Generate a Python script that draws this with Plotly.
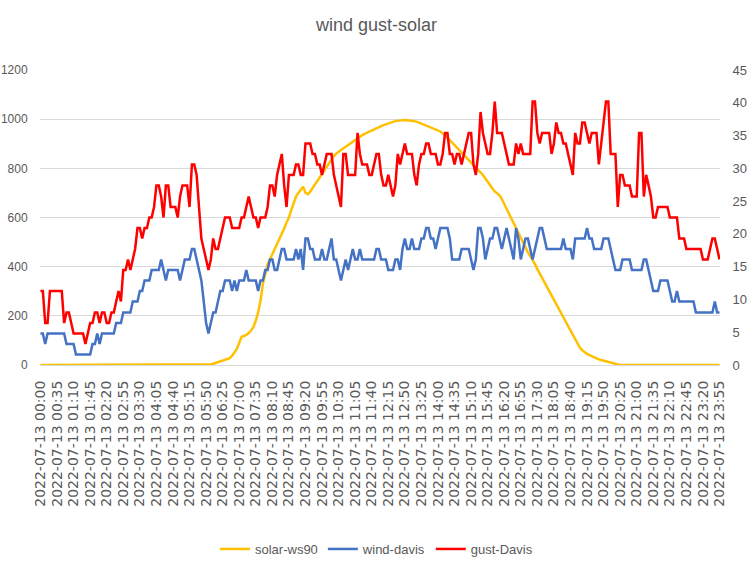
import plotly.graph_objects as go

# ---- categories: 5-minute timestamps for 2022-07-13 ----
times = [f"2022-07-13 {h:02d}:{m:02d}" for h in range(24) for m in range(0, 60, 5)]
tick_labels = times[::7]

# ---- solar-ws90 (left axis, W/m2) ----
solar = [
    0, 0, 0, 0, 0, 0, 0, 0, 0, 0,
    0, 0, 0, 0, 0, 0, 0, 0, 0, 0,
    0, 0, 0, 0, 0, 0, 0, 0, 0, 0,
    0, 0, 0, 0, 0, 0, 0, 0, 0, 0,
    0, 0, 0, 0, 0, 0, 0, 0, 0, 0,
    0, 0, 0, 0, 0, 0, 0, 0, 0, 0,
    0, 0, 0, 0, 0, 0, 0, 0, 0, 0,
    0, 2, 3, 5, 8, 12, 15, 18, 21, 24,
    28, 38, 50, 65, 90, 115, 118, 122, 130, 140,
    155, 180, 215, 260, 330, 375, 410, 430, 450, 470,
    490, 510, 530, 555, 580, 600, 630, 660, 685, 700,
    715, 725, 700, 695, 705, 720, 735, 745, 760, 780,
    795, 810, 825, 840, 850, 860, 868, 875, 882, 888,
    895, 902, 910, 917, 923, 929, 935, 940, 945, 950,
    955, 960, 964, 968, 972, 976, 980, 983, 986, 989,
    992, 994, 996, 997, 997, 996, 995, 994, 993, 990,
    986, 982, 978, 974, 970, 966, 963, 960, 956, 950,
    942, 934, 925, 915, 905, 895, 885, 875, 865, 855,
    845, 835, 825, 815, 805, 795, 785, 773, 760, 745,
    730, 718, 706, 698, 690, 675, 655, 635, 615, 598,
    580, 560, 535, 515, 495, 475, 458, 443, 428, 410,
    390, 372, 354, 336, 318, 300, 284, 266, 248, 230,
    212, 195, 178, 160, 142, 124, 106, 88, 70, 60,
    52, 45, 40, 35, 30, 27, 23, 20, 17, 14,
    11, 8, 5, 3, 2, 1, 0, 0, 0, 0,
    0, 0, 0, 0, 0, 0, 0, 0, 0, 0,
    0, 0, 0, 0, 0, 0, 0, 0, 0, 0,
    0, 0, 0, 0, 0, 0, 0, 0, 0, 0,
    0, 0, 0, 0, 0, 0, 0, 0,
]

# ---- wind-davis (right axis) ----
wind = [
    4.8, 4.8, 3.2, 4.8, 4.8, 4.8, 4.8, 4.8, 4.8, 4.8,
    4.8, 3.2, 3.2, 3.2, 3.2, 1.6, 1.6, 1.6, 1.6, 1.6,
    1.6, 1.6, 3.2, 3.2, 4.8, 3.2, 4.8, 4.8, 4.8, 4.8,
    4.8, 4.8, 6.4, 6.4, 6.4, 8.0, 8.0, 8.0, 8.0, 9.7,
    9.7, 9.7, 11.3, 11.3, 12.9, 12.9, 12.9, 14.5, 14.5, 14.5,
    14.5, 16.1, 14.5, 12.9, 14.5, 14.5, 14.5, 14.5, 14.5, 12.9,
    14.5, 16.1, 16.1, 16.1, 17.7, 17.7, 16.1, 14.5, 12.9, 9.7,
    6.4, 4.8, 6.4, 8.0, 8.0, 9.7, 11.3, 11.3, 12.9, 12.9,
    12.9, 11.3, 12.9, 11.3, 12.9, 12.9, 12.9, 14.5, 12.9, 12.9,
    12.9, 12.9, 11.3, 12.9, 12.9, 14.5, 14.5, 16.1, 16.1, 14.5,
    14.5, 16.1, 17.7, 17.7, 16.1, 16.1, 16.1, 16.1, 17.7, 16.1,
    17.7, 14.5, 19.3, 19.3, 17.7, 17.7, 16.1, 16.1, 16.1, 17.7,
    16.1, 16.1, 17.7, 19.3, 16.1, 16.1, 14.5, 12.9, 14.5, 16.1,
    14.5, 16.1, 17.7, 16.1, 16.1, 17.7, 16.1, 16.1, 16.1, 16.1,
    16.1, 16.1, 17.7, 17.7, 16.1, 16.1, 16.1, 14.5, 14.5, 14.5,
    16.1, 16.1, 14.5, 17.7, 19.3, 17.7, 17.7, 19.3, 17.7, 17.7,
    17.7, 19.3, 19.3, 20.9, 20.9, 19.3, 19.3, 17.7, 19.3, 20.9,
    20.9, 20.9, 20.9, 19.3, 16.1, 16.1, 16.1, 16.1, 17.7, 17.7,
    17.7, 17.7, 16.1, 14.5, 16.1, 20.9, 20.9, 19.3, 16.1, 17.7,
    19.3, 19.3, 20.9, 20.9, 19.3, 17.7, 19.3, 20.9, 19.3, 17.7,
    16.1, 20.9, 19.3, 16.1, 17.7, 19.3, 19.3, 17.7, 16.1, 17.7,
    19.3, 20.9, 20.9, 19.3, 17.7, 17.7, 17.7, 17.7, 17.7, 17.7,
    17.7, 19.3, 17.7, 17.7, 17.7, 16.1, 19.3, 19.3, 19.3, 19.3,
    19.3, 20.9, 19.3, 19.3, 17.7, 17.7, 17.7, 17.7, 19.3, 19.3,
    19.3, 17.7, 16.1, 14.5, 14.5, 14.5, 16.1, 16.1, 16.1, 16.1,
    14.5, 14.5, 14.5, 14.5, 14.5, 16.1, 16.1, 14.5, 12.9, 11.3,
    11.3, 11.3, 12.9, 12.9, 12.9, 12.9, 11.3, 9.7, 9.7, 11.3,
    9.7, 9.7, 9.7, 9.7, 9.7, 9.7, 9.7, 8.0, 8.0, 8.0,
    8.0, 8.0, 8.0, 8.0, 8.0, 9.7, 8.0, 8.0,
]

# ---- gust-Davis (right axis) ----
gust = [
    11.3, 11.3, 6.4, 6.4, 11.3, 11.3, 11.3, 11.3, 11.3, 11.3,
    6.4, 8.0, 8.0, 6.4, 4.8, 4.8, 4.8, 4.8, 4.8, 3.2,
    4.8, 6.4, 6.4, 8.0, 8.0, 6.4, 8.0, 8.0, 6.4, 6.4,
    8.0, 8.0, 9.7, 11.3, 9.7, 14.5, 14.5, 16.1, 14.5, 16.1,
    17.7, 20.9, 20.9, 19.3, 20.9, 20.9, 22.5, 22.5, 24.1, 27.4,
    27.4, 25.7, 22.5, 27.4, 27.4, 24.1, 24.1, 24.1, 22.5, 25.7,
    27.4, 27.4, 27.4, 24.1, 30.6, 30.6, 29.0, 24.1, 19.3, 17.7,
    16.1, 14.5, 16.1, 19.3, 17.7, 17.7, 19.3, 20.9, 22.5, 22.5,
    22.5, 20.9, 20.9, 20.9, 20.9, 22.5, 22.5, 24.1, 25.7, 24.1,
    22.5, 22.5, 20.9, 22.5, 22.5, 22.5, 24.1, 27.4, 27.4, 25.7,
    29.0, 30.6, 32.2, 27.4, 24.1, 29.0, 29.0, 29.0, 30.6, 30.6,
    29.0, 29.0, 33.8, 33.8, 33.8, 32.2, 32.2, 30.6, 30.6, 29.0,
    30.6, 32.2, 32.2, 32.2, 29.0, 27.4, 25.7, 24.1, 32.2, 32.2,
    29.0, 29.0, 29.0, 29.0, 35.4, 32.2, 30.6, 30.6, 30.6, 29.0,
    29.0, 30.6, 32.2, 32.2, 29.0, 27.4, 27.4, 29.0, 27.4, 25.7,
    27.4, 32.2, 30.6, 32.2, 33.8, 32.2, 32.2, 32.2, 29.0, 27.4,
    30.6, 32.2, 32.2, 33.8, 33.8, 32.2, 32.2, 32.2, 30.6, 30.6,
    32.2, 35.4, 35.4, 32.2, 32.2, 30.6, 32.2, 32.2, 30.6, 32.2,
    33.8, 35.4, 35.4, 30.6, 29.0, 32.2, 38.6, 35.4, 33.8, 32.2,
    32.2, 35.4, 40.2, 35.4, 35.4, 35.4, 33.8, 32.2, 30.6, 30.6,
    30.6, 33.8, 32.2, 33.8, 32.2, 32.2, 32.2, 32.2, 40.2, 40.2,
    35.4, 33.8, 35.4, 35.4, 35.4, 35.4, 32.2, 33.8, 37.0, 35.4,
    35.4, 33.8, 33.8, 32.2, 30.6, 29.0, 35.4, 33.8, 33.8, 37.0,
    37.0, 35.4, 33.8, 35.4, 35.4, 35.4, 30.6, 33.8, 37.0, 40.2,
    40.2, 32.2, 32.2, 32.2, 24.1, 29.0, 29.0, 27.4, 27.4, 27.4,
    25.7, 25.7, 25.7, 35.4, 35.4, 25.7, 29.0, 27.4, 25.7, 22.5,
    22.5, 24.1, 24.1, 24.1, 24.1, 24.1, 22.5, 22.5, 22.5, 22.5,
    19.3, 19.3, 19.3, 17.7, 17.7, 17.7, 17.7, 17.7, 17.7, 17.7,
    16.1, 16.1, 16.1, 17.7, 19.3, 19.3, 17.7, 16.1,
]

GRAY = "#595959"
GRID = "#D9D9D9"

fig = go.Figure()
fig.add_trace(go.Scatter(x=times, y=solar, name="solar-ws90", mode="lines",
                         line=dict(color="#FFC000", width=2.5), yaxis="y"))
fig.add_trace(go.Scatter(x=times, y=wind, name="wind-davis", mode="lines",
                         line=dict(color="#4472C4", width=2.5), yaxis="y2"))
fig.add_trace(go.Scatter(x=times, y=gust, name="gust-Davis", mode="lines",
                         line=dict(color="#FF0000", width=2.5), yaxis="y2"))

fig.update_layout(
    width=753, height=580,
    paper_bgcolor="white", plot_bgcolor="white",
    margin=dict(l=40, r=33, t=70, b=215, autoexpand=False),
    title=dict(text="wind gust-solar", x=0.5, xanchor="center",
               y=1 - 25 / 580, yanchor="middle",
               font=dict(family="Liberation Sans", size=18, color=GRAY)),
    font=dict(family="Liberation Sans", color=GRAY),
    xaxis=dict(type="category", categoryorder="array", categoryarray=times,
               tickmode="array", tickvals=tick_labels, ticktext=tick_labels,
               tickangle=-90, range=[-0.2, 287.2], automargin=False,
               showgrid=False, zeroline=False, showline=False,
               ticks="outside", ticklen=9, tickcolor="rgba(0,0,0,0)",
               tickfont=dict(family="DejaVu Sans", size=14, color=GRAY)),
    yaxis=dict(range=[0, 1200], dtick=200, showgrid=True, gridcolor=GRID,
               gridwidth=1, zeroline=True, zerolinecolor=GRID, zerolinewidth=1,
               showline=False, ticks="outside", ticklen=9, automargin=False,
               tickcolor="rgba(0,0,0,0)",
               tickfont=dict(size=12, color=GRAY)),
    yaxis2=dict(range=[0, 45], dtick=5, overlaying="y", side="right",
                showgrid=False, zeroline=False, showline=False, automargin=False,
                ticks="outside", ticklen=9, tickcolor="rgba(0,0,0,0)",
                tickfont=dict(size=13, color=GRAY)),
    legend=dict(orientation="h", x=0.5, xanchor="center",
                xref="container", yref="container",
                y=1 - 549 / 580, yanchor="middle",
                font=dict(size=13, color=GRAY)),
    showlegend=True,
)

fig.write_html("out.html",
               config={"displayModeBar": False},
               post_script="document.body.style.margin='0px';document.body.style.padding='0px';")
